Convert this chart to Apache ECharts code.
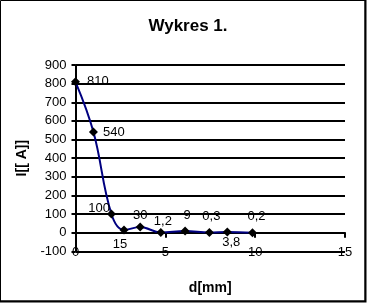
<!DOCTYPE html>
<html>
<head>
<meta charset="utf-8">
<script src="https://cdn.jsdelivr.net/npm/echarts@6/dist/echarts.min.js"></script>
<style>
html,body{margin:0;padding:0;background:#fff;}
#c{width:367px;height:303px;}
</style>
</head>
<body>
<div id="c"></div>
<script>
// Data
const distances = [0, 1, 2, 2.7, 3.6, 4.75, 6.1, 7.45, 8.45, 9.85];   // d [mm]
const currents  = [810, 540, 100, 15, 30, 1.2, 9, 0.3, 3.8, 0.2];      // I
const xTicks = [0, 5, 10, 15];
const yTicks = [-100, 0, 100, 200, 300, 400, 500, 600, 700, 800, 900];

// label placement (style only)
const labelPlacement = [
  {position:'right', distance:7, offset:[0,0]},
  {position:'right', distance:5, offset:[0,0]},
  {position:'left', distance:0, offset:[3,-6]},
  {position:'bottom', distance:4, offset:[-4,0]},
  {position:'top', distance:1, offset:[0,0]},
  {position:'top', distance:0, offset:[2,0]},
  {position:'top', distance:5, offset:[2,0]},
  {position:'top', distance:5, offset:[2,0]},
  {position:'bottom', distance:-1, offset:[4,0]},
  {position:'top', distance:5, offset:[4,0]}
];

const chart = echarts.init(document.getElementById('c'), null, {renderer:'canvas'});
const FONT = 'Liberation Sans, Arial, sans-serif';

const seriesData = distances.map((x, i) => ({
  value: [x, currents[i]],
  label: Object.assign({}, labelPlacement[i])
}));

chart.setOption({
  animation: false,
  backgroundColor: '#fff',
  title: {
    text: 'Wykres 1.',
    left: 183, top: 13, textAlign: 'center',
    textStyle: {fontFamily: FONT, fontSize: 17, fontWeight: 'bold', color: '#000'}
  },
  grid: {left: 75.5, right: 22, top: 65, bottom: 51.7, containLabel: false, outerBoundsMode: 'none'},
  xAxis: {
    type: 'value', min: xTicks[0], max: xTicks[xTicks.length-1], interval: 5,
    name: 'd[mm]', nameLocation: 'middle', nameGap: 30,
    nameTextStyle: {fontFamily: FONT, fontSize: 14, fontWeight: 'bold', color: '#000'},
    axisLine: {show: true, onZero: true, lineStyle: {color: '#000', width: 2}},
    axisTick: {show: true, length: 5, lineStyle: {color: '#000', width: 2}},
    axisLabel: {color: '#000', fontFamily: FONT, fontSize: 13, margin: -5},
    splitLine: {show: false}
  },
  yAxis: {
    type: 'value', min: yTicks[0], max: yTicks[yTicks.length-1], interval: 100,
    name: 'I[[ A]]', nameLocation: 'middle', nameRotate: 90, nameGap: 43,
    nameTextStyle: {fontFamily: FONT, fontSize: 14, fontWeight: 'bold', color: '#000'},
    axisLine: {show: true, lineStyle: {color: '#000', width: 2}},
    axisTick: {show: true, length: 4, lineStyle: {color: '#000', width: 2}},
    axisLabel: {color: '#000', fontFamily: FONT, fontSize: 13, margin: 9},
    splitLine: {show: true, lineStyle: {color: '#000', width: 2}}
  },
  series: [{
    type: 'line',
    data: seriesData,
    smooth: 0.4,
    lineStyle: {color: '#000080', width: 2},
    symbol: 'diamond', symbolSize: 9,
    itemStyle: {color: '#000'},
    label: {
      show: true, color: '#000', fontFamily: FONT, fontSize: 13,
      formatter: p => String(p.value[1]).replace('.', ',')
    },
    z: 5
  }],
  graphic: [{
    type: 'rect', silent: true,
    shape: {x: 0.5, y: 0.5, width: 364.5, height: 300.5},
    style: {fill: 'none', stroke: '#000', lineWidth: 1}
  }, {
    type: 'polyline', silent: true,
    shape: {points: [[365.5, 0], [365.5, 301.5], [0, 301.5]]},
    style: {fill: 'none', stroke: '#000', lineWidth: 2}
  }]
});
</script>
</body>
</html>
